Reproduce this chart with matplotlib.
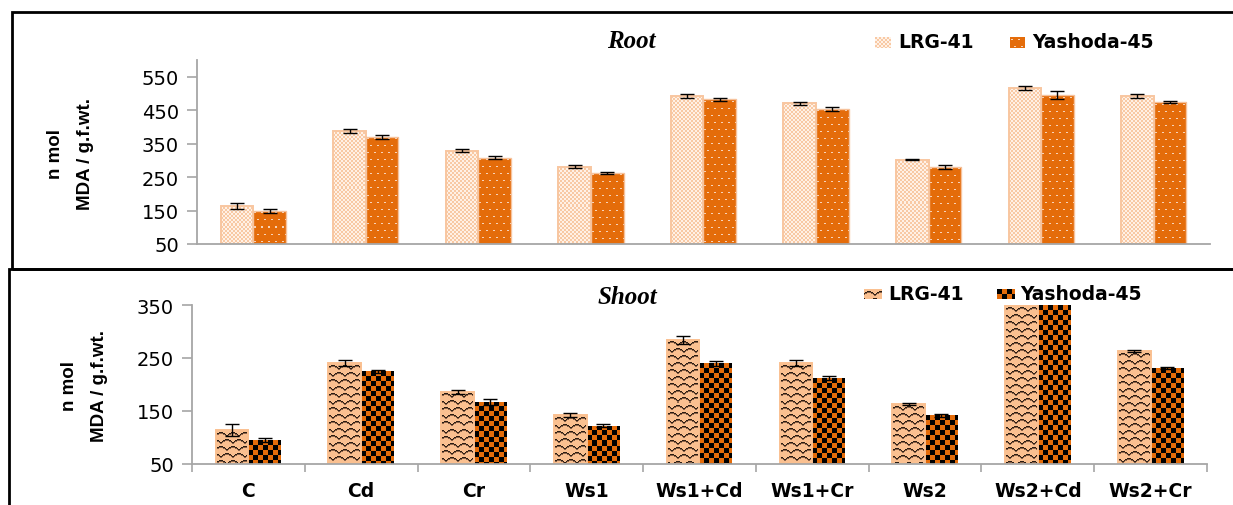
import numpy as np
import matplotlib
matplotlib.use("Agg")
import matplotlib.pyplot as plt
from matplotlib.patches import Rectangle

groups = ["C", "Cd", "Cr", "Ws1", "Ws1+Cd", "Ws1+Cr", "Ws2", "Ws2+Cd", "Ws2+Cr"]
series = ["LRG-41", "Yashoda-45"]

root_lrg = [164, 389, 329, 281, 492, 470, 302, 515, 492]
root_lrg_err = [10, 6, 5, 5, 5, 5, 2, 6, 6]
root_yash = [149, 371, 308, 263, 482, 455, 281, 495, 473]
root_yash_err = [5, 6, 4, 3, 4, 6, 6, 13, 3]

shoot_lrg = [114, 240, 186, 142, 284, 240, 163, 365, 263]
shoot_lrg_err = [12, 6, 4, 4, 7, 6, 2, 5, 2]
shoot_yash = [95, 225, 167, 122, 240, 212, 142, 360, 231]
shoot_yash_err = [4, 3, 5, 3, 5, 4, 3, 5, 2]

W, H = 1233, 506
fig = plt.figure(figsize=(W / 100, H / 100), dpi=100)


def rgb(c):
    return np.array(matplotlib.colors.to_rgb(c))


def checker(a, b, cell):
    t = np.zeros((2 * cell, 2 * cell, 3))
    t[:, :] = rgb(a)
    t[:cell, :cell] = rgb(b)
    t[cell:, cell:] = rgb(b)
    return t


def dots():
    t = np.zeros((14, 7, 3))
    t[:, :] = rgb("#E46C0A")
    t[2, 1:3] = rgb("#F7D3B8")
    t[9, 4:6] = rgb("#F7D3B8")
    return t


def scales():
    # staggered rows of wavy strokes
    t = np.zeros((14, 12, 3))
    t[:, :] = rgb("#FAC090")
    ink = rgb("#2A1C12")
    soft = rgb("#8A6248")
    for r0, s in [(1, 0), (8, 6)]:
        for x in range(12):
            xs = (x + s) % 12
            y = r0 + int(round(3 * (1 - np.sin(np.pi * xs / 12)) + xs / 5))
            t[y % 14, x] = ink
            t[(y + 1) % 14, x] = soft
    return t


tex_root_lrg = checker("#FFF1E6", "#F8C9A4", 2)
tex_root_yash = dots()
tex_shoot_lrg = scales()
tex_shoot_yash = checker("#E46C0A", "#000000", 5)


def paint(ax, bars, tile):
    top = ax.get_ylim()[1]
    for b in bars:
        x0, y0 = b.get_x(), b.get_y()
        x1, y1 = x0 + b.get_width(), min(y0 + b.get_height(), top)
        (p0, q0), (p1, q1) = ax.transData.transform([(x0, y0), (x1, y1)])
        nw, nh = max(1, int(round(p1 - p0))), max(1, int(round(q1 - q0)))
        reps = (nh // tile.shape[0] + 1, nw // tile.shape[1] + 1, 1)
        img = np.tile(tile, reps)[:nh, :nw]
        im = ax.imshow(img, extent=(x0, x1, y0, y1), origin="upper",
                       interpolation="nearest", aspect="auto", zorder=2)
        im.set_clip_path(b)


def panel(rect, ylim, yticks, lrg, lrg_err, yash, yash_err, tex, edge):
    ax = fig.add_axes(rect)
    x = np.arange(len(groups))
    w = 0.29
    base = ylim[0]
    ax.set_xlim(-0.5, len(groups) - 0.5)
    ax.set_ylim(*ylim)
    b1 = ax.bar(x - w / 2, np.array(lrg) - base, w, bottom=base,
                facecolor="none", edgecolor=edge[0], linewidth=1.4, zorder=3)
    b2 = ax.bar(x + w / 2, np.array(yash) - base, w, bottom=base,
                facecolor="none", edgecolor=edge[1], linewidth=1.0, zorder=3)
    paint(ax, b1, tex[0])
    paint(ax, b2, tex[1])
    ax.errorbar(x - w / 2, lrg, yerr=lrg_err, fmt="none", ecolor="black",
                elinewidth=1, capsize=5, capthick=1, zorder=4)
    ax.errorbar(x + w / 2, yash, yerr=yash_err, fmt="none", ecolor="black",
                elinewidth=1, capsize=5, capthick=1, zorder=4)
    ax.set_xlim(-0.5, len(groups) - 0.5)
    ax.set_ylim(*ylim)
    ax.set_yticks(yticks)
    ax.set_yticklabels([str(v) for v in yticks], fontsize=14,
                       family="DejaVu Sans")
    for s in ["top", "right"]:
        ax.spines[s].set_visible(False)
    for s in ["left", "bottom"]:
        ax.spines[s].set_color("#A6A6A6")
        ax.spines[s].set_linewidth(1.3)
    ax.spines["bottom"].set_zorder(5)
    ax.tick_params(axis="y", direction="out", length=7, color="#A6A6A6",
                   width=1.2, pad=6)
    return ax, x


def px(x, y):
    return x / W, 1 - y / H


# root panel
l, b = px(197, 245)
r, t = px(1210, 61)
ax1, x = panel([l, b, r - l, t - b], (50, 600), [50, 150, 250, 350, 450, 550],
               root_lrg, root_lrg_err, root_yash, root_yash_err,
               (tex_root_lrg, tex_root_yash), ("#F8C6A0", "#F6C29C"))
ax1.set_xticks([])

# shoot panel
l, b = px(192, 465)
r, t = px(1207, 306)
ax2, x = panel([l, b, r - l, t - b], (50, 350), [50, 150, 250, 350],
               shoot_lrg, shoot_lrg_err, shoot_yash, shoot_yash_err,
               (tex_shoot_lrg, tex_shoot_yash), ("#FAC090", "none"))
ax2.set_xticks(x)
ax2.set_xticklabels(groups, fontsize=13.5, fontweight="bold",
                    family="DejaVu Sans")
ax2.tick_params(axis="x", length=0, pad=12)
ax2.set_xticks(np.arange(-0.5, len(groups)), minor=True)
ax2.tick_params(axis="x", which="minor", length=6, color="#A6A6A6", width=1.2)

# panel frames
fig.patches.append(Rectangle(px(12, 270), 1225 / W, 257 / H,
                             transform=fig.transFigure, fill=False,
                             edgecolor="black", linewidth=2, zorder=10))
fig.patches.append(Rectangle(px(9, 520), 1240 / W, 250 / H,
                             transform=fig.transFigure, fill=False,
                             edgecolor="black", linewidth=2, zorder=10))

# titles
title_font = dict(family="Liberation Serif", fontstyle="italic",
                  fontweight="bold", fontsize=18, ha="center", va="center")
fig.text(*px(631, 41), "Root", **title_font)
fig.text(*px(627, 298), "Shoot", **title_font)

# y labels
ylab = dict(family="Liberation Sans", fontweight="bold", fontsize=13.5,
            rotation=90, ha="center", va="center", linespacing=2.0,
            multialignment="center")
fig.text(*px(71, 154), "n mol\nMDA / g.f.wt.", **ylab)
fig.text(*px(84, 386), "n mol\nMDA / g.f.wt.", **ylab)

# legends
leg_font = dict(family="DejaVu Sans", fontweight="bold", fontsize=13.5,
                va="center", ha="left")


def key(tile, x0, y0, w, h):
    reps = (h // tile.shape[0] + 1, w // tile.shape[1] + 1, 1)
    img = np.tile(tile, reps)[:h, :w]
    fig.figimage(img, xo=x0, yo=H - y0 - h, origin="upper", zorder=3)


key(tex_root_lrg, 875, 38, 16, 11)
fig.text(*px(898, 43), series[0], **leg_font)
key(tex_root_yash, 1010, 38, 15, 11)
fig.text(*px(1032, 43), series[1], **leg_font)

key(tex_shoot_lrg, 864, 290, 18, 10)
fig.text(*px(888, 295), series[0], **leg_font)
key(tex_shoot_yash, 997, 290, 18, 10)
fig.text(*px(1020, 295), series[1], **leg_font)

fig.savefig("out.png", dpi=100)
